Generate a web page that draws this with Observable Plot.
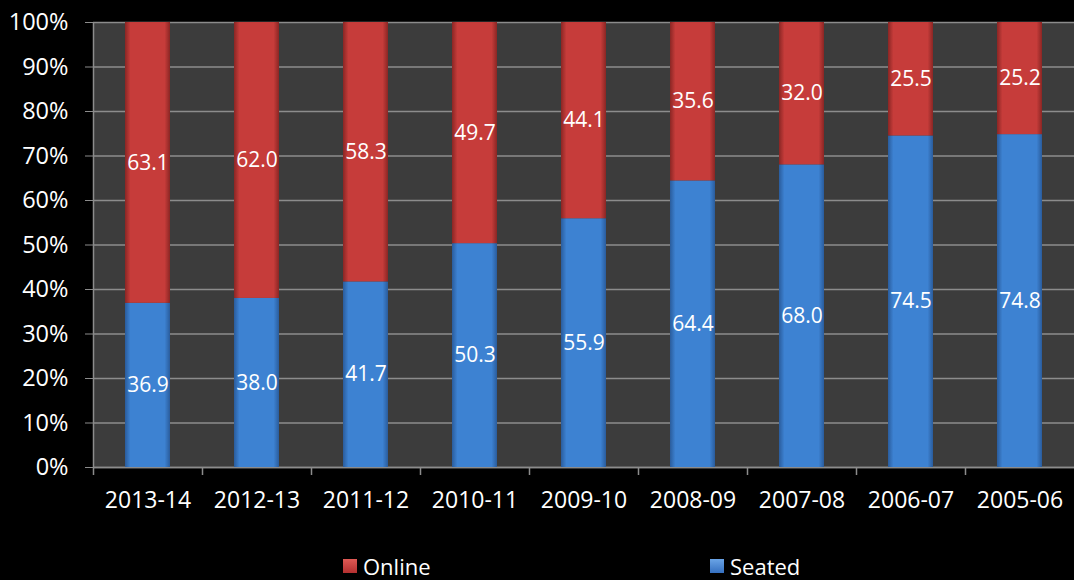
<!DOCTYPE html>
<html>
<head>
<meta charset="utf-8">
<script src="https://cdn.jsdelivr.net/npm/d3@7"></script>
<script src="https://cdn.jsdelivr.net/npm/@observablehq/plot@0.6"></script>
<style>
  html, body { margin: 0; padding: 0; background: #000; }
  #chart { width: 1074px; }
  #legend { width: 1074px; height: 40px; position: relative; font-family: "Open Sans", sans-serif; font-size: 22px; color: #fff; }
  .item { position: absolute; top: 11px; display: flex; align-items: center; line-height: 30px; }
  .sw { width: 14px; height: 14px; margin-right: 6px; }
</style>
</head>
<body>
<div id="chart"></div>
<div id="legend">
  <div class="item" style="left:343px"><span class="sw" style="background:linear-gradient(to bottom,#e05a55,#b33030)"></span>Online</div>
  <div class="item" style="left:710px"><span class="sw" style="background:linear-gradient(to bottom,#6aa4e6,#3570c0)"></span>Seated</div>
</div>
<script>
const years = ["2013-14","2012-13","2011-12","2010-11","2009-10","2008-09","2007-08","2006-07","2005-06"];
const seated = [36.9, 38.0, 41.7, 50.3, 55.9, 64.4, 68.0, 74.5, 74.8];
const online = [63.1, 62.0, 58.3, 49.7, 44.1, 35.6, 32.0, 25.5, 25.2];
const series = ["Seated", "Online"];
const yTicks = [0,10,20,30,40,50,60,70,80,90,100];

const rows = [];
years.forEach((y, i) => {
  rows.push({year: y, series: "Seated", value: seated[i]});
  rows.push({year: y, series: "Online", value: online[i]});
});

const font = "'Open Sans', sans-serif";
const grid = "#8c8c8c";

const chart = Plot.plot({
  width: 1074,
  height: 540,
  marginLeft: 93,
  marginRight: 0,
  marginTop: 22,
  marginBottom: 73,
  style: {background: "#000", color: "#fff", fontFamily: font, fontSize: "22px"},
  x: {domain: years, paddingInner: 0.585, paddingOuter: 0.2925, align: 0.5, label: null},
  y: {domain: [0, 100], label: null},
  color: {domain: series, range: ["url(#gBlue)", "url(#gRed)"]},
  marks: [
    Plot.frame({fill: "#3c3c3c", stroke: null}),
    Plot.gridY(yTicks, {stroke: grid, strokeOpacity: 1, strokeWidth: 1.5}),
    Plot.ruleX(years, {dx: -54.5, y1: 0, y2: -1.8, stroke: grid, strokeWidth: 1.5}),
    Plot.ruleY([0], {stroke: grid, strokeWidth: 1.5}),
    Plot.axisY(yTicks, {tickFormat: d => d + "%", tickSize: 8, tickPadding: 17, stroke: grid, fontSize: 23.5, label: null}),
    Plot.ruleX([years[0]], {dx: -54.5, stroke: grid, strokeWidth: 1.5}),
    Plot.axisX({tickSize: 0, tickPadding: 24, fontSize: 23, label: null}),
    Plot.barY(rows, Plot.stackY({x: "year", y: "value", z: "series", fill: "series", order: series})),
    Plot.text(rows, Plot.stackY({x: "year", y: "value", z: "series", order: series, text: d => d.value.toFixed(1), fill: "#fff", fontSize: 21}))
  ]
});

const svg = d3.select(chart);
const defs = svg.insert("defs", ":first-child");
function grad(id, edge, mid) {
  const g = defs.append("linearGradient").attr("id", id).attr("x1", 0).attr("x2", 1).attr("y1", 0).attr("y2", 0);
  g.append("stop").attr("offset", "0%").attr("stop-color", edge);
  g.append("stop").attr("offset", "12%").attr("stop-color", mid);
  g.append("stop").attr("offset", "88%").attr("stop-color", mid);
  g.append("stop").attr("offset", "100%").attr("stop-color", edge);
}
grad("gRed", "#8a2624", "#c63c3a");
grad("gBlue", "#2a5c9c", "#3d82d2");

document.getElementById("chart").appendChild(chart);
</script>
</body>
</html>
